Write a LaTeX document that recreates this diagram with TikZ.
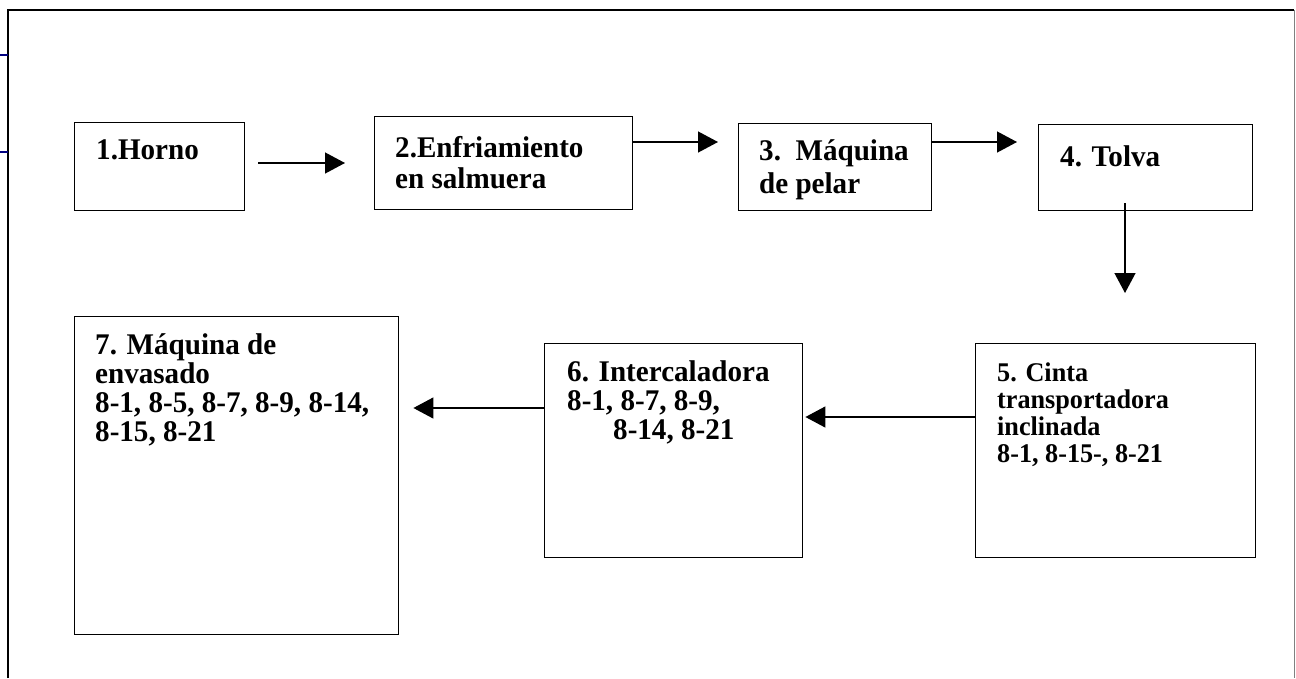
\documentclass[tikz,border=0pt]{standalone}
\usepackage{fontspec}
\setmainfont{Liberation Serif}[FakeStretch=0.97]
\usetikzlibrary{arrows.meta}
\definecolor{navyline}{RGB}{0,0,128}
\newcommand{\tightskip}{\lineskiplimit=-20pt\relax}
\begin{document}
\begin{tikzpicture}[x=1pt,y=-1pt,
  box/.style={draw, line width=1.4pt, inner sep=0pt, anchor=north west},
  txt/.style={anchor=north west, inner sep=0pt, align=left, font={\bfseries\fontsize{30}{29}\selectfont\tightskip}},
  txts/.style={anchor=north west, inner sep=0pt, align=left, font={\bfseries\fontsize{27}{27}\selectfont\tightskip}},
  arr/.style={line width=1.3pt, -{Triangle[length=20pt,width=21pt]}},
]
\useasboundingbox (0,0) rectangle (1296,678);
% frame
\draw[line width=1.5pt] (8,678) -- (8,10) -- (1294,10);
\draw[gray, line width=1pt] (1294.5,10) -- (1294.5,678);
\draw[navyline, line width=1.5pt] (0,55) -- (8,55);
\draw[navyline, line width=1.5pt] (0,152) -- (8,152);
% boxes
\node[box, minimum width=170pt, minimum height=88pt] (b1) at (74,122) {};
\node[box, minimum width=258pt, minimum height=93pt] (b2) at (374,116) {};
\node[box, minimum width=193pt, minimum height=87pt] (b3) at (738,123) {};
\node[box, minimum width=214pt, minimum height=86pt] (b4) at (1038,124) {};
\node[box, minimum width=280pt, minimum height=214pt] (b5) at (975,343) {};
\node[box, minimum width=258pt, minimum height=214pt] (b6) at (544,343) {};
\node[box, minimum width=324pt, minimum height=318pt] (b7) at (74,316) {};
% texts
\node[txt] (t1) at (96,135) {\rule{0pt}{24pt}1.Horno};
\node[txt] (t2) at (395,133) {\rule{0pt}{24pt}2.Enfriamiento\\[2pt]en salmuera};
\node[txt] (t3) at (759,136) {\rule{0pt}{24pt}3.\ \ Máquina\\[4pt]de pelar};
\node[txt] (t4) at (1060,142) {\rule{0pt}{24pt}4. Tolva};
\node[txts] (t5) at (997,361) {\rule{0pt}{20pt}5. Cinta\\transportadora\\inclinada\\8-1, 8-15-, 8-21};
\node[txt] (t6) at (567,357) {\rule{0pt}{24pt}6. Intercaladora\\8-1, 8-7, 8-9,\\\hspace*{46pt}8-14, 8-21};
\node[txt] (t7) at (95,330) {\rule{0pt}{24pt}7. Máquina de\\envasado\\8-1, 8-5, 8-7, 8-9, 8-14,\\8-15, 8-21};
% arrows
\draw[arr, shorten <=13pt, shorten >=29pt] (b1.east |- 0,163) -- (b2.west |- 0,163);
\draw[arr, shorten >=20pt] (b2.east |- 0,142) -- (b3.west |- 0,142);
\draw[arr, shorten >=21pt] (b3.east |- 0,142) -- (b4.west |- 0,142);
\draw[arr, shorten <=-8pt, shorten >=50pt] (b4.south -| 1125,0) -- (b5.north -| 1125,0);
\draw[arr, shorten >=2pt] (b5.west |- 0,417) -- (b6.east |- 0,417);
\draw[arr, shorten >=14pt] (b6.west |- 0,408) -- (b7.east |- 0,408);
\end{tikzpicture}
\end{document}
